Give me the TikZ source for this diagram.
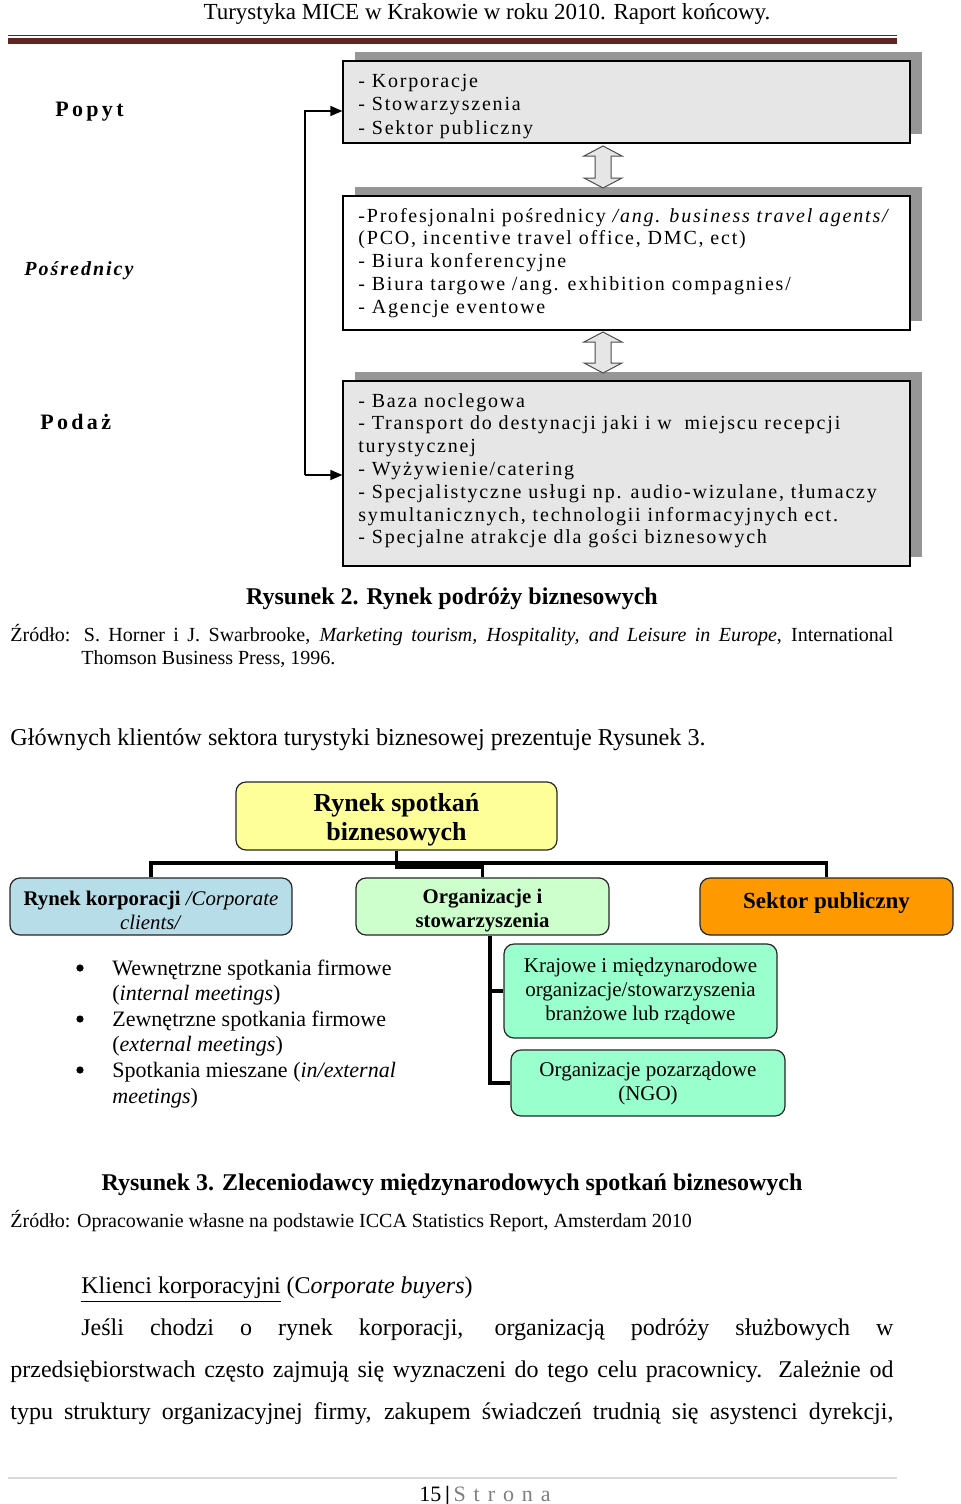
\documentclass[tikz,border=0pt]{standalone}
\usepackage{fontspec}
\setmainfont{Liberation Serif}
\usetikzlibrary{shadows,arrows.meta}
\definecolor{maroon}{HTML}{622423}
\definecolor{boxgray}{HTML}{E6E6E6}
\definecolor{shgray}{HTML}{969696}
\definecolor{yel}{HTML}{FFFF99}
\definecolor{lblue}{HTML}{B7DDE8}
\definecolor{lgreen}{HTML}{CCFFCC}
\definecolor{orng}{HTML}{FF9900}
\definecolor{aqua}{HTML}{99FFCC}
\definecolor{foot}{HTML}{7F7F7F}
\begin{document}
\begin{tikzpicture}[x=0.5pt,y=-0.5pt,
  txt/.style={anchor=base west, inner sep=0},
  ctxt/.style={anchor=base, inner sep=0},
  shbox/.style={draw=black, line width=0.6pt, inner sep=0, minimum width=283.5pt,
    general shadow={shadow xshift=6pt, shadow yshift=4.5pt, fill=shgray}},
  boxtxt/.style={anchor=base west, inner sep=0, font=\fontsize{10}{12}\selectfont\addfontfeature{LetterSpace=9}},
  dbl/.style={fill=boxgray, draw=black!70, line width=0.5pt},
  conn/.style={line width=0.6pt, -{Triangle[length=6pt,width=5pt]}},
  rbox/.style={draw=black!85, line width=0.6pt, rounded corners=5pt, inner sep=0, align=center},
  tree/.style={line width=1.6pt},
  lbl/.style={anchor=base west, inner sep=0, font=\fontsize{11}{13}\selectfont\bfseries\addfontfeature{LetterSpace=15}},
  body/.style={anchor=base west, inner sep=0, font=\fontsize{12}{14}\selectfont},
  small/.style={anchor=base west, inner sep=0, font=\fontsize{10}{12}\selectfont},
  bul/.style={anchor=base west, inner sep=0, font=\fontsize{11}{13}\selectfont},
  dot/.style={circle, fill=black, inner sep=0, minimum size=3.6pt}
]
\useasboundingbox (0,0) rectangle (960,1504);
\fill[white] (0,0) rectangle (960,1504);

% header
\node[ctxt, font=\fontsize{11.5}{13}\selectfont] (hdr) at (487,20) {Turystyka MICE w Krakowie w roku 2010. Raport końcowy.};
\draw[maroon, line width=0.5pt] (8,35.5) -- (897,35.5);
\fill[maroon] (8,38) rectangle (897,44.5);

% diagram 1 boxes
\node[shbox, fill=boxgray, minimum height=41pt] (box1) at (626.5,102) {};
\node[shbox, fill=white, minimum height=67pt] (box2) at (626.5,263) {};
\node[shbox, fill=boxgray, minimum height=92.5pt] (box3) at (626.5,473.5) {};

\foreach \t [count=\i from 0] in {{- Korporacje},{- Stowarzyszenia},{- Sektor publiczny}}
  \node[boxtxt] (pa\i) at (358,88+23*\i) {\t};
\foreach \t [count=\i from 0] in {{-Profesjonalni pośrednicy \textit{/ang. business travel agents/}},
  {(PCO, incentive travel office, DMC, ect)},{- Biura konferencyjne},
  {- Biura targowe /ang. exhibition compagnies/},{- Agencje eventowe}}
  \node[boxtxt] (pb\i) at (358,222+22.8*\i) {\t};
\foreach \t [count=\i from 0] in {{- Baza noclegowa},
  {- Transport do destynacji jaki i w\hspace{3pt} miejscu recepcji},{turystycznej},
  {- Wyżywienie/catering},{- Specjalistyczne usługi np. audio-wizulane, tłumaczy},
  {symultanicznych, technologii informacyjnych ect.},{- Specjalne atrakcje dla gości biznesowych}}
  \node[boxtxt] (pc\i) at (358,407+22.8*\i) {\t};

% double arrows
\foreach \ya/\yb in {146/188, 332/373}
  \draw[dbl] (603,\ya) -- (622,\ya+10) -- (611,\ya+10) -- (611,\yb-10) -- (622,\yb-10)
    -- (603,\yb) -- (584,\yb-10) -- (595,\yb-10) -- (595,\ya+10) -- (584,\ya+10) -- cycle;

% side labels
\node[lbl] (lpopyt) at (55,117) {Popyt};
\node[lbl, font=\fontsize{10}{12}\selectfont\bfseries\itshape\addfontfeature{LetterSpace=10}] (lposr) at (24,275) {Pośrednicy};
\node[lbl] (lpodaz) at (40,429) {Podaż};

% rail connectors
\coordinate (a1) at (305,111);
\coordinate (a2) at (305,475);
\draw[conn] (a2) -- (a1) -- (a1 -| box1.west);
\draw[conn] (a2) -- (a2 -| box3.west);

% caption 2 and source
\node[ctxt, font=\fontsize{12}{14}\selectfont\bfseries] (cap2) at (452,604) {Rysunek 2. Rynek podróży biznesowych};
\node[small] (src1) at (10,641) {\makebox[441.5pt][s]{Źródło: S. Horner i J. Swarbrooke, \textit{Marketing tourism, Hospitality, and Leisure in Europe}, International}};
\node[small] (src1b) at (81,664) {Thomson Business Press, 1996.};

\node[body, font=\fontsize{12.1}{14}\selectfont] (intro) at (10,745) {Głównych klientów sektora turystyki biznesowej prezentuje Rysunek 3.};

% diagram 2
\node[rbox, fill=yel, minimum width=160.5pt, minimum height=34pt, font=\fontsize{13}{14.5}\selectfont\bfseries] (top) at (396.5,816) {\rule{0pt}{13pt}Rynek spotkań\\biznesowych};
\node[rbox, fill=lblue, minimum width=141pt, minimum height=28.5pt, font=\fontsize{10.4}{12}\selectfont] (k1) at (151,906.5) {\rule{0pt}{11pt}\textbf{Rynek korporacji} \textit{/Corporate}\\\textit{clients/}};
\node[rbox, fill=lgreen, minimum width=126.5pt, minimum height=28.5pt, font=\fontsize{10.4}{12}\selectfont\bfseries] (k2) at (482.5,906.5) {\rule{0pt}{11pt}Organizacje i\\stowarzyszenia};
\node[rbox, fill=orng, minimum width=126.5pt, minimum height=28.5pt, font=\fontsize{11.5}{13}\selectfont\bfseries] (k3) at (826.5,906.5) {\rule[-5.5pt]{0pt}{5.5pt}Sektor publiczny};
\node[rbox, fill=aqua, minimum width=136.5pt, minimum height=47pt, font=\fontsize{10.5}{12}\selectfont] (s1) at (640.5,991) {Krajowe i międzynarodowe\\organizacje/stowarzyszenia\\branżowe lub rządowe};
\node[rbox, fill=aqua, minimum width=137pt, minimum height=33pt, font=\fontsize{10.5}{12}\selectfont] (s2) at (648,1083) {Organizacje pozarządowe\\(NGO)};

\coordinate (hb) at (0,863);
\coordinate (el) at (0,867);
\coordinate (vx) at (490,0);
\draw[tree] (k1.north) -- (k1.north |- hb) -- (k3.north |- hb) -- (k3.north);
\draw[tree] (top.south) -- (top.south |- el) -| (k2.north);
\draw[tree] (k2.south -| vx) -- (vx |- s2.west) -- (s2.west);
\draw[tree] (vx |- s1.west) -- (s1.west);

% bullets
\node[dot] (bd1) at (80,968) {};
\node[dot] (bd2) at (80,1019) {};
\node[dot] (bd3) at (80,1070) {};
\node[bul] (bt1) at (112,975) {Wewnętrzne spotkania firmowe};
\node[bul] (bc1) at (112,1000) {(\textit{internal meetings})};
\node[bul] (bt2) at (112,1026) {Zewnętrzne spotkania firmowe};
\node[bul] (bc2) at (112,1051) {(\textit{external meetings})};
\node[bul] (bt3) at (112,1077) {Spotkania mieszane (\textit{in/external}};
\node[bul] (bc3) at (112,1103) {\textit{meetings})};

% caption 3
\node[ctxt, font=\fontsize{12}{14}\selectfont\bfseries] (cap3) at (452,1190) {Rysunek 3. Zleceniodawcy międzynarodowych spotkań biznesowych};
\node[small] (src2) at (10,1227) {Źródło: Opracowanie własne na podstawie ICCA Statistics Report, Amsterdam 2010};

% body text
\node[body] (kk) at (81,1293) {\underline{Klienci korporacyjni} (C\textit{orporate buyers})};
\node[body] (p1) at (81,1335) {\makebox[406pt][s]{Jeśli chodzi o rynek korporacji, organizacją podróży służbowych w}};
\node[body] (p2) at (10,1377) {\makebox[441.5pt][s]{przedsiębiorstwach często zajmują się wyznaczeni do tego celu pracownicy. Zależnie od}};
\node[body] (p3) at (10,1419) {\makebox[441.5pt][s]{typu struktury organizacyjnej firmy, zakupem świadczeń trudnią się asystenci dyrekcji,}};

% footer
\draw[black!15, line width=0.8pt] (8,1478) -- (897,1478);
\node[txt, font=\fontsize{11}{13}\selectfont] (pg) at (419,1501) {15\,\textbf{|}\,\textcolor{foot}{\addfontfeature{LetterSpace=36}Strona}};
\end{tikzpicture}
\end{document}
